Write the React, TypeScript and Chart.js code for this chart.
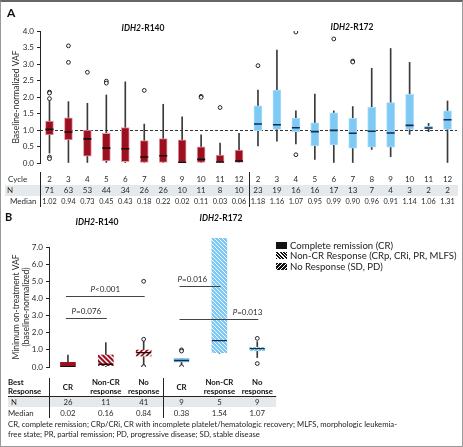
import React, { useEffect, useRef } from 'react';
import { Chart, registerables } from 'chart.js';
Chart.register(...registerables);

const FONT = 'Lato, "Open Sans", "Noto Sans", sans-serif';
Chart.defaults.font.family = FONT;

// ---------- Panel A data ----------
const cycles = ['2', '3', '4', '5', '6', '7', '8', '9', '10', '11', '12'];
const r140N = [71, 63, 53, 44, 34, 26, 26, 10, 11, 8, 10];
const r140Median = [1.02, 0.94, 0.73, 0.45, 0.43, 0.18, 0.22, 0.02, 0.11, 0.03, 0.06];
const r140Q1 = [0.85, 0.70, 0.21, 0.06, 0.04, 0.02, 0.02, 0.0, 0.0, 0.0, 0.0];
const r140Q3 = [1.27, 1.37, 1.0, 0.9, 1.07, 0.68, 0.74, 0.7, 0.49, 0.24, 0.39];
const r140Lo = [0.3, 0, 0, 0, 0, 0, 0, 0, 0, 0, 0];
const r140Hi = [1.88, 1.86, 1.81, 2.06, 2.46, 1.18, 1.78, 1.4, 0.85, 0.6, 0.9];
const r140Out = [[2.15, 2.12, 1.95, 0.18, 0.13], [3.55, 3.05], [2.75], [2.48, 2.42], [], [2.2], [], [], [2.02, 1.99], [1.68], []];

const r172N = [23, 19, 16, 16, 17, 13, 7, 4, 3, 2, 2];
const r172Median = [1.18, 1.16, 1.07, 0.95, 0.99, 0.9, 0.96, 0.91, 1.14, 1.06, 1.31];
const r172Q1 = [0.98, 1.02, 0.95, 0.52, 0.55, 0.45, 0.48, 0.48, 1.02, 1.04, 1.02];
const r172Q3 = [1.73, 2.21, 1.35, 1.22, 1.52, 1.35, 1.69, 1.83, 2.08, 1.12, 1.58];
const r172Lo = [0.52, 0.66, 0.58, 0.11, 0, 0, 0.41, 0.19, 0.87, 0.95, 0];
const r172Hi = [2.21, 3.42, 1.58, 2.09, 1.58, 1.71, 2.87, 3.47, 3.05, 1.2, 1.88];
const r172Out = [[2.95], [], [3.97, 0.25], [], [3.76], [3.09, 3.06], [], [], [], [], []];
const refValue = 1.0;

// ---------- Panel B data ----------
const respHeader = [['CR'], ['Non-CR', 'response'], ['No', 'response']];
const bN = [26, 11, 41, 9, 5, 9];
const bMedian = [0.02, 0.16, 0.84, 0.38, 1.54, 1.07];
const bQ1 = [0.0, 0.08, 0.64, 0.3, 0.83, 0.95];
const bQ3 = [0.27, 0.7, 0.99, 0.5, 7.5, 1.15];
const bLo = [0, 0, 0, 0.08, 0.8, 0.55];
const bHi = [0.7, 1.42, 1.6, 0.5, 7.5, 1.48];
const bOut = [[], [], [5.0, 1.62, 0.0, 0.02], [1.0, 0.93, 0.02], [], [1.67, 0.2]];
const pFrom = [0, 0, 3, 3];
const pTo = [1, 2, 4, 5];
const pY = [2.84, 4.15, 4.72, 2.8];
const pText = ['=0.076', '<0.001', '=0.016', '=0.013'];
const pAlign = ['center', 'center', 'left', 'right'];

const RED = '#9d0e1f';
const RED_EDGE = '#e49aa6';
const BLUE = '#7fc9f5';
const BLUE_EDGE = '#a8dbf8';
const TXT = '#2a2a2a';

function makeHatch(ctx: CanvasRenderingContext2D, bg: string, fg: string, dir: string, size: number, lw: number) {
  const c = document.createElement('canvas');
  c.width = size;
  c.height = size;
  const g = c.getContext('2d')!;
  g.fillStyle = bg;
  g.fillRect(0, 0, size, size);
  g.strokeStyle = fg;
  g.lineWidth = lw;
  g.beginPath();
  if (dir === 'fwd') {
    g.moveTo(0, size); g.lineTo(size, 0);
    g.moveTo(-size, size); g.lineTo(size, -size);
    g.moveTo(0, 2 * size); g.lineTo(2 * size, 0);
  } else {
    g.moveTo(0, 0); g.lineTo(size, size);
    g.moveTo(-size, 0); g.lineTo(size, 2 * size);
    g.moveTo(0, -size); g.lineTo(2 * size, size);
  }
  g.stroke();
  return ctx.createPattern(c, 'repeat')!;
}

function yAxis(min: number, max: number, step: number, width: number, title: any) {
  return {
    min, max,
    afterFit: (s: any) => { s.width = width; },
    ticks: { stepSize: step, color: TXT, font: { size: 8 }, padding: 3, callback: (v: any) => Number(v).toFixed(1) },
    grid: { drawOnChartArea: false, drawTicks: true, tickLength: 3, color: '#222' },
    border: { display: true, color: '#222', width: 1 },
    title: { display: true, text: title, color: TXT, font: { size: 8.5 }, padding: { top: 11, bottom: 0 } },
  };
}

function PanelA() {
  const ref = useRef<HTMLCanvasElement>(null);
  useEffect(() => {
    const canvas = ref.current!;
    const n = cycles.length;
    const labels = [...cycles.map(c => 'R140-' + c), ...cycles.map(c => 'R172-' + c)];
    const lo = [...r140Lo, ...r172Lo];
    const hi = [...r140Hi, ...r172Hi];
    const q1 = [...r140Q1, ...r172Q1];
    const q3 = [...r140Q3, ...r172Q3];
    const med = [...r140Median, ...r172Median];
    const outs = [...r140Out, ...r172Out];
    const fill = labels.map((_, i) => (i < n ? RED : BLUE));
    const edge = labels.map((_, i) => (i < n ? RED_EDGE : BLUE_EDGE));
    const medCol = labels.map((_, i) => (i < n ? '#111' : '#182c48'));
    const outPts: any[] = [];
    outs.forEach((arr, i) => arr.forEach(v => outPts.push({ x: labels[i], y: v })));

    const refPlugin = {
      id: 'refLine',
      beforeDatasetsDraw(chart: any) {
        const { ctx, chartArea } = chart;
        const y = Math.round(chart.scales.y.getPixelForValue(refValue)) + 0.5;
        ctx.save();
        ctx.strokeStyle = '#333';
        ctx.lineWidth = 1;
        ctx.setLineDash([3, 2]);
        ctx.beginPath();
        ctx.moveTo(chartArea.left, y);
        ctx.lineTo(chartArea.right, y);
        ctx.stroke();
        ctx.restore();
      },
    };
    const tablePlugin = {
      id: 'tableA',
      afterDraw(chart: any) {
        const { ctx, chartArea } = chart;
        const xs = chart.scales.x;
        ctx.save();
        ctx.fillStyle = '#e6e9eb';
        ctx.fillRect(5, 185, chartArea.right - 4, 11);
        ctx.strokeStyle = '#222';
        ctx.lineWidth = 1;
        const sep = Math.round((xs.getPixelForValue(n - 1) + xs.getPixelForValue(n)) / 2) + 0.5;
        ctx.beginPath();
        ctx.moveTo(Math.round(chartArea.left) + 0.5, 172);
        ctx.lineTo(Math.round(chartArea.left) + 0.5, 207);
        ctx.moveTo(sep, 172);
        ctx.lineTo(sep, 207);
        ctx.stroke();
        ctx.fillStyle = TXT;
        ctx.textBaseline = 'middle';
        ctx.textAlign = 'left';
        ctx.font = `8px ${FONT}`;
        ctx.fillText('Cycle', 8, 179);
        ctx.fillText('N', 7, 190.5);
        ctx.fillText('Median', 10, 201.5);
        ctx.textAlign = 'center';
        const cyc = [...cycles, ...cycles];
        const nn = [...r140N, ...r172N];
        labels.forEach((_, i) => {
          const x = xs.getPixelForValue(i);
          ctx.font = `8px ${FONT}`;
          ctx.fillText(cyc[i], x, 179);
          ctx.fillText(String(nn[i]), x, 190.5);
          ctx.font = `7.3px ${FONT}`;
          ctx.fillText(med[i].toFixed(2), x, 201.5);
        });
        ctx.restore();
      },
    };

    const chart = new Chart(canvas, {
      type: 'bar',
      data: {
        labels,
        datasets: [
          { type: 'bar', data: labels.map((_, i) => [lo[i], hi[i]]), backgroundColor: '#3a3a3a', barThickness: 1, grouped: false, order: 4 } as any,
          { type: 'bar', data: labels.map((_, i) => [q1[i], q3[i]]), backgroundColor: fill, borderColor: edge, borderWidth: 1, borderSkipped: false, barThickness: 8, grouped: false, order: 3 } as any,
          { type: 'line', data: med, showLine: false, pointStyle: 'line', pointRadius: 4, pointBorderWidth: 1.6, pointBorderColor: medCol, order: 2 } as any,
          { type: 'line', data: outPts, showLine: false, pointStyle: 'circle', pointRadius: 1.9, pointBackgroundColor: '#fff', pointBorderColor: '#222', pointBorderWidth: 1, order: 1 } as any,
        ],
      },
      options: {
        responsive: false,
        animation: false,
        devicePixelRatio: 1,
        layout: { padding: { left: 0, right: 6, top: 31, bottom: 47 } },
        plugins: { legend: { display: false }, tooltip: { enabled: false } },
        scales: {
          x: { display: false },
          y: yAxis(0, 4, 0.5, 40, 'Baseline-normalized VAF') as any,
        },
      },
      plugins: [refPlugin, tablePlugin],
    });
    return () => chart.destroy();
  }, []);
  return <canvas ref={ref} width={463} height={210} style={{ position: 'absolute', left: 0, top: 0, width: 463, height: 210 }} />;
}

function PanelB() {
  const ref = useRef<HTMLCanvasElement>(null);
  useEffect(() => {
    const canvas = ref.current!;
    const ctx0 = canvas.getContext('2d')!;
    const labels = ['R140-CR', 'R140-NonCR', 'R140-No', 'R172-CR', 'R172-NonCR', 'R172-No'];
    const fills = [
      RED,
      makeHatch(ctx0, RED, '#ffffff', 'back', 5, 1.4),
      makeHatch(ctx0, RED, '#ffffff', 'fwd', 5, 1.7),
      BLUE,
      makeHatch(ctx0, BLUE, '#ffffff', 'back', 4, 0.9),
      makeHatch(ctx0, BLUE, '#ffffff', 'fwd', 4, 1.0),
    ];
    const medCol = ['#111', '#111', '#111', '#182c48', '#182c48', '#182c48'];
    const outPts: any[] = [];
    bOut.forEach((arr, i) => arr.forEach(v => outPts.push({ x: labels[i], y: v })));

    const annPlugin = {
      id: 'annB',
      afterDraw(chart: any) {
        const { ctx, chartArea } = chart;
        const xs = chart.scales.x;
        const ys = chart.scales.y;
        ctx.save();
        pFrom.forEach((f, k) => {
          const x1 = xs.getPixelForValue(f) - 2;
          const x2 = xs.getPixelForValue(pTo[k]) + 1;
          const y = Math.round(ys.getPixelForValue(pY[k])) + 0.5;
          ctx.strokeStyle = '#444';
          ctx.lineWidth = 1;
          ctx.beginPath();
          ctx.moveTo(x1, y);
          ctx.lineTo(x2, y);
          ctx.stroke();
          ctx.font = `italic 8px ${FONT}`;
          const wP = ctx.measureText('P').width;
          ctx.font = `8px ${FONT}`;
          const wR = ctx.measureText(pText[k]).width;
          const w = wP + wR;
          let sx = (x1 + x2) / 2 - w / 2;
          if (pAlign[k] === 'left') sx = x1 - 2;
          if (pAlign[k] === 'right') sx = x2 + 4 - w;
          ctx.fillStyle = TXT;
          ctx.textBaseline = 'middle';
          ctx.textAlign = 'left';
          ctx.font = `italic 8px ${FONT}`;
          ctx.fillText('P', sx, y - 7);
          ctx.font = `8px ${FONT}`;
          ctx.fillText(pText[k], sx + wP, y - 7);
        });
        const off = 200;
        ctx.fillStyle = '#e6e9eb';
        ctx.fillRect(8, 397 - off, chartArea.right - 8, 10);
        ctx.strokeStyle = '#222';
        ctx.beginPath();
        ctx.moveTo(8, 396.5 - off);
        ctx.lineTo(chartArea.right, 396.5 - off);
        const lx = Math.round(chartArea.left) + 0.5;
        const sep = Math.round((xs.getPixelForValue(2) + xs.getPixelForValue(3)) / 2) + 0.5;
        ctx.moveTo(lx, 378 - off);
        ctx.lineTo(lx, 418 - off);
        ctx.moveTo(sep, 378 - off);
        ctx.lineTo(sep, 418 - off);
        ctx.stroke();
        ctx.fillStyle = '#111';
        ctx.textBaseline = 'middle';
        ctx.textAlign = 'left';
        ctx.font = `bold 7.8px ${FONT}`;
        ctx.fillText('Best', 8, 382 - off);
        ctx.fillText('Response', 8, 391 - off);
        ctx.textAlign = 'center';
        labels.forEach((_, i) => {
          const x = xs.getPixelForValue(i);
          const h = respHeader[i % 3];
          ctx.font = `bold 7.8px ${FONT}`;
          ctx.fillStyle = '#111';
          if (h.length === 1) ctx.fillText(h[0], x, 387 - off);
          else { ctx.fillText(h[0], x, 382 - off); ctx.fillText(h[1], x, 391 - off); }
          ctx.fillStyle = TXT;
          ctx.font = `7.8px ${FONT}`;
          ctx.fillText(String(bN[i]), x, 402 - off);
          ctx.fillText(bMedian[i].toFixed(2), x, 413 - off);
        });
        ctx.textAlign = 'left';
        ctx.font = `7.8px ${FONT}`;
        ctx.fillText('N', 11, 402 - off);
        ctx.fillText('Median', 8, 413 - off);
        ctx.restore();
      },
    };

    const chart = new Chart(canvas, {
      type: 'bar',
      data: {
        labels,
        datasets: [
          { type: 'bar', data: labels.map((_, i) => [bLo[i], bHi[i]]), backgroundColor: '#3a3a3a', barThickness: 1, grouped: false, order: 4, clip: false } as any,
          { type: 'bar', data: labels.map((_, i) => [bQ1[i], bQ3[i]]), backgroundColor: fills, borderWidth: 0, borderSkipped: false, barThickness: 15, grouped: false, order: 3, clip: false } as any,
          { type: 'line', data: bMedian, showLine: false, pointStyle: 'line', pointRadius: 7.5, pointBorderWidth: 1.3, pointBorderColor: medCol, order: 2 } as any,
          { type: 'line', data: outPts, showLine: false, pointStyle: 'circle', pointRadius: 1.9, pointBackgroundColor: '#fff', pointBorderColor: '#222', pointBorderWidth: 1, order: 1 } as any,
        ],
      },
      options: {
        responsive: false,
        animation: false,
        devicePixelRatio: 1,
        layout: { padding: { left: 0, right: 7, top: 47, bottom: 53 } },
        plugins: { legend: { display: false }, tooltip: { enabled: false } },
        scales: {
          x: { display: false },
          y: yAxis(0, 7, 1, 49, ['Minimum on-treatment VAF', '(baseline-normalized)']) as any,
        },
      },
      plugins: [annPlugin],
    });
    return () => chart.destroy();
  }, []);
  return <canvas ref={ref} width={285} height={220} style={{ position: 'absolute', left: 0, top: 200, width: 285, height: 220 }} />;
}

function GeneTitle({ x, y, mut }: { x: number; y: number; mut: string }) {
  return (
    <div style={{ position: 'absolute', left: x, top: y, transform: 'translate(-50%,-50%)', fontWeight: 700, fontSize: 8.5, whiteSpace: 'nowrap', color: '#111', fontFamily: FONT }}>
      <i>IDH2</i>{mut}
    </div>
  );
}

const legendItems = [
  { label: 'Complete remission (CR)', bg: '#111' },
  { label: 'Non-CR Response (CRp, CRi, PR, MLFS)', bg: 'repeating-linear-gradient(45deg, #111 0px, #111 1.4px, #fff 1.4px, #fff 2.4px)' },
  { label: 'No Response (SD, PD)', bg: 'repeating-linear-gradient(-45deg, #111 0px, #111 1.8px, #fff 1.8px, #fff 2.8px)' },
];

export default function App() {
  return (
    <div style={{ position: 'absolute', left: 0, top: 0, width: 463, height: 447, background: '#fff', fontFamily: FONT, overflow: 'hidden' }}>
      <PanelA />
      <PanelB />
      <div style={{ position: 'absolute', left: 7, top: 5, fontWeight: 700, fontSize: 12, color: '#111' }}>A</div>
      <div style={{ position: 'absolute', left: 5, top: 210, fontWeight: 700, fontSize: 11, color: '#111' }}>B</div>
      <GeneTitle x={143} y={28} mut="-R140" />
      <GeneTitle x={352} y={27} mut="-R172" />
      <GeneTitle x={97} y={222} mut="-R140" />
      <GeneTitle x={221} y={218} mut="-R172" />
      <div style={{ position: 'absolute', left: 276, top: 240 }}>
        {legendItems.map((it, i) => (
          <div key={i} style={{ display: 'flex', alignItems: 'center', height: 10.5, whiteSpace: 'nowrap' }}>
            <div style={{ width: 11, height: 7, background: it.bg, marginRight: 3 }} />
            <span style={{ fontSize: 9.6, color: '#222' }}>{it.label}</span>
          </div>
        ))}
      </div>
      <div style={{ position: 'absolute', left: 8, top: 419, fontSize: 7.7, lineHeight: '10px', color: '#222', whiteSpace: 'nowrap' }}>
        CR, complete remission; CRp/CRi, CR with incomplete platelet/hematologic recovery; MLFS, morphologic leukemia-<br />
        free state; PR, partial remission; PD, progressive disease; SD, stable disease
      </div>
      <div style={{ position: 'absolute', left: 0, top: 0, width: 463, height: 447, boxSizing: 'border-box', border: '1px solid #999', borderTop: '2px solid #666', pointerEvents: 'none' }} />
    </div>
  );
}
